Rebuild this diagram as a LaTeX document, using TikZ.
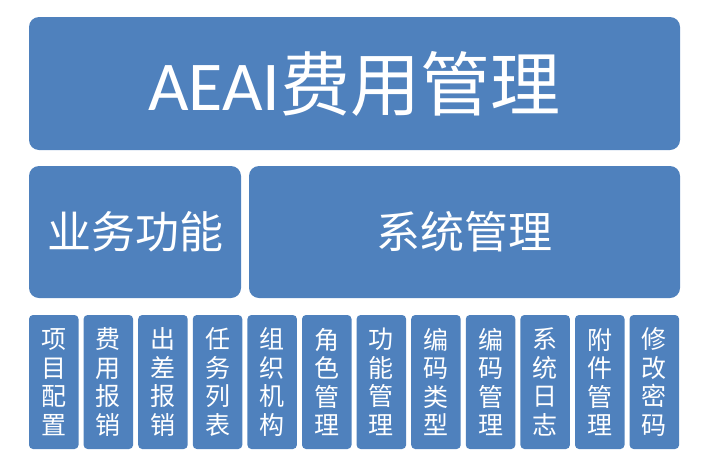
\documentclass[tikz,border=0pt]{standalone}
\usepackage{fontspec}
\setmainfont{Carlito}
\newfontfamily\cjk{Noto Sans CJK SC}
\definecolor{boxblue}{HTML}{4F81BD}
\tikzset{
  blk/.style={fill=boxblue, draw=none, text=white, inner sep=0pt, rounded corners=10pt},
  tile/.style={blk, rounded corners=4pt, minimum width=49.5pt, minimum height=134pt,
    align=center, font=\cjk\fontsize{25}{28.5}\selectfont}
}

\begin{document}
\begin{tikzpicture}[x=1pt,y=-1pt]
	\useasboundingbox (0,0) rectangle (709,469);
	% top
	\node[blk, minimum width=651pt, minimum height=133pt] (title) at (354.5,83.5)
		{\fontsize{70}{70}\selectfont AEAI\cjk 费用管理};
	% middle row
	\node[blk, minimum width=212pt, minimum height=132pt] (biz) at (135,232)
		{\cjk\fontsize{44}{44}\selectfont 业务功能};
	\node[blk, minimum width=431pt, minimum height=132pt] (sys) at (464.5,232)
		{\cjk\fontsize{44}{44}\selectfont 系统管理};
	% bottom row
	\foreach \i/\txt in {0/{项\\目\\配\\置}, 1/{费\\用\\报\\销}, 2/{出\\差\\报\\销},
		3/{任\\务\\列\\表}, 4/{组\\织\\机\\构}, 5/{角\\色\\管\\理},
		6/{功\\能\\管\\理}, 7/{编\\码\\类\\型}, 8/{编\\码\\管\\理},
		9/{系\\统\\日\\志}, 10/{附\\件\\管\\理}, 11/{修\\改\\密\\码}}
		\node[tile] (t\i) at (53.75+54.6*\i,382) {\txt};
\end{tikzpicture}
\end{document}
